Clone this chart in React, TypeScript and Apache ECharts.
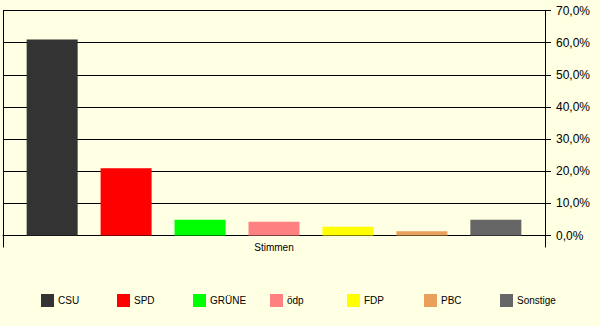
import React, { useEffect, useRef } from "react";
import * as echarts from "echarts";

const categories = ["Stimmen"];
const parties = ["CSU", "SPD", "GRÜNE", "ödp", "FDP", "PBC", "Sonstige"];
const shares = [61.0, 20.9, 4.9, 4.3, 2.7, 1.3, 4.9];
const colors = ["#333333", "#FF0000", "#00FF00", "#FF8080", "#FFFF00", "#E8A05A", "#666666"];
const yTicks = { min: 0, max: 70, interval: 10 };

const FONT = "'Liberation Sans', Arial, sans-serif";

export default function App() {
  const ref = useRef<HTMLDivElement>(null);
  useEffect(() => {
    document.body.style.margin = "0";
    const chart = echarts.init(ref.current!, null, { renderer: "svg" });
    const legendLefts = [41, 117, 193, 270, 347, 424, 500];
    chart.setOption({
      animation: false,
      backgroundColor: "#FFFFE3",
      textStyle: { fontFamily: FONT },
      grid: { left: 3, right: 55, top: 10.5, bottom: 90.5, containLabel: false },
      legend: parties.map((p, i) => ({
        data: [p],
        left: legendLefts[i],
        top: 294,
        itemWidth: 13,
        itemHeight: 13,
        icon: "rect",
        selectedMode: false,
        padding: 0,
        textStyle: { fontSize: 10, color: "#000", fontFamily: FONT, padding: [0, 0, 0, -1] },
      })),
      xAxis: {
        type: "category",
        data: categories,
        axisLine: { show: true, lineStyle: { color: "#000", width: 1 } },
        axisTick: { show: true, length: 12, lineStyle: { color: "#000" } },
        splitLine: { show: true, lineStyle: { color: "#000", width: 1 } },
        axisLabel: { fontSize: 10, color: "#000", margin: 7, fontFamily: FONT },
      },
      yAxis: {
        type: "value",
        position: "right",
        min: yTicks.min,
        max: yTicks.max,
        interval: yTicks.interval,
        axisLine: { show: true, lineStyle: { color: "#000", width: 1 } },
        axisTick: { show: true, length: 6, inside: false, lineStyle: { color: "#000" } },
        splitLine: { show: true, lineStyle: { color: "#000", width: 1 } },
        axisLabel: {
          fontSize: 12,
          color: "#000",
          margin: 11,
          fontFamily: FONT,
          formatter: (v: number) => v.toFixed(1).replace(".", ",") + "%",
        },
      },
      series: parties.map((p, i) => ({
        name: p,
        type: "bar",
        data: [shares[i]],
        barWidth: 51,
        barGap: "45%",
        itemStyle: { color: colors[i] },
      })),
    });
    return () => chart.dispose();
  }, []);
  return <div ref={ref} style={{ width: 600, height: 326 }} />;
}
